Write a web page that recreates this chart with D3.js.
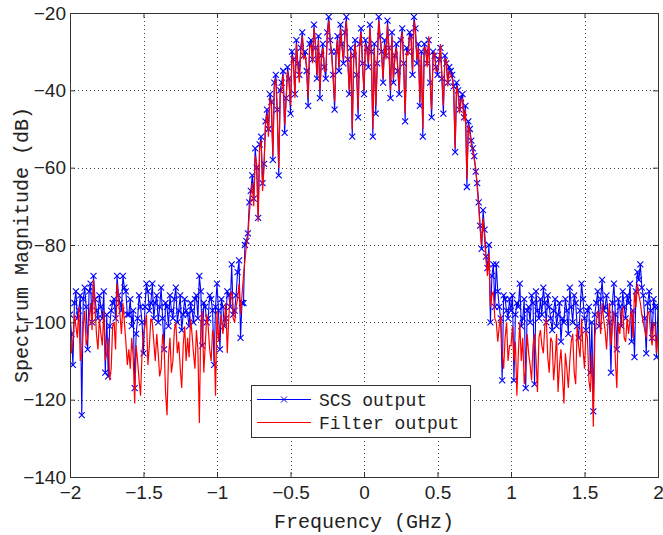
<!DOCTYPE html>
<html>
<head>
<meta charset="utf-8">
<script src="https://cdn.jsdelivr.net/npm/d3@7"></script>
<style>
  html, body { margin: 0; padding: 0; background: #fff; }
  svg { display: block; }
</style>
</head>
<body>
<div id="chart"></div>
<script>
// sample grid of the spectrum, GHz (one sample every 0.01 GHz)
var freqStart = -2, freqStep = 0.01;

// SCS output, dB (one row = 0.2 GHz)
var scsOutput = [
  -98, -103, -111, -95, -92, -99, -97, -93, -124, -94, -91, -96, -107, -92, -90, -100, -88, -94, -97, -99,
  -93, -96, -99, -92, -113, -98, -114, -101, -97, -95, -94, -99, -88, -93, -95, -97, -88, -91, -92, -98,
  -98, -94, -101, -97, -117, -103, -99, -93, -96, -100, -108, -96, -90, -92, -97, -95, -90, -99, -95, -93,
  -100, -96, -91, -99, -107, -95, -96, -101, -93, -97, -99, -94, -91, -100, -97, -93, -102, -98, -94, -97,
  -98, -101, -95, -97, -100, -94, -93, -99, -88, -92, -106, -95, -96, -100, -99, -93, -94, -97, -111, -96,
  -90, -97, -107, -94, -96, -101, -99, -92, -93, -96, -85, -98, -97, -93, -87, -84, -104, -95, -95, -80,
  -79, -77, -69, -66, -62, -68, -55, -60, -73, -54, -52, -64, -59, -48, -45, -50, -41, -43, -58, -38,
  -36, -45, -62, -40, -38, -35, -51, -42, -34, -37, -46, -30, -32, -41, -27, -33, -36, -29, -25, -31,
  -30, -35, -44, -28, -27, -32, -23, -29, -37, -26, -42, -31, -28, -34, -37, -25, -21, -27, -30, -36,
  -45, -30, -26, -35, -23, -28, -33, -25, -21, -32, -41, -29, -52, -31, -27, -36, -47, -28, -24, -33,
  -41, -27, -29, -34, -23, -30, -52, -28, -46, -33, -21, -26, -30, -38, -27, -31, -22, -29, -42, -25,
  -38, -31, -28, -35, -41, -27, -24, -33, -48, -29, -30, -25, -26, -36, -21, -24, -33, -28, -44, -30,
  -52, -28, -30, -33, -27, -38, -47, -30, -31, -34, -36, -32, -29, -37, -46, -31, -33, -38, -34, -35,
  -36, -39, -56, -38, -40, -45, -42, -41, -47, -44, -65, -48, -50, -53, -55, -57, -61, -64, -69, -75,
  -81, -71, -76, -83, -86, -80, -100, -88, -85, -96, -85, -92, -96, -99, -115, -93, -94, -97, -99, -94,
  -97, -93, -115, -98, -95, -96, -90, -101, -99, -94, -117, -97, -96, -100, -93, -95, -116, -92, -97, -99,
  -94, -98, -91, -95, -100, -93, -96, -99, -102, -97, -94, -101, -98, -95, -105, -99, -100, -94, -97, -103,
  -91, -96, -100, -93, -95, -101, -104, -97, -90, -94, -99, -102, -97, -96, -113, -100, -123, -98, -95, -92,
  -101, -94, -89, -97, -96, -93, -98, -100, -113, -95, -90, -98, -107, -94, -96, -101, -92, -96, -99, -93,
  -95, -90, -105, -97, -109, -92, -87, -89, -85, -91, -93, -99, -108, -95, -92, -97, -104, -94, -96, -109,
  -96
];

// Filter output, dB
var filterOutput = [
  -100, -108, -105, -98, -101, -104, -96, -110, -108, -101, -97, -106, -104, -99, -95, -102, -89, -96, -103, -107,
  -99, -103, -106, -97, -110, -108, -104, -115, -112, -101, -100, -107, -90, -94, -98, -103, -95, -100, -105, -111,
  -107, -112, -104, -109, -121, -106, -110, -115, -119, -108, -103, -101, -98, -111, -106, -99, -100, -105, -110, -103,
  -108, -114, -112, -103, -106, -118, -124, -109, -104, -113, -110, -102, -100, -108, -105, -112, -117, -106, -101, -110,
  -104, -109, -99, -103, -108, -112, -102, -107, -126, -100, -97, -113, -106, -98, -101, -107, -110, -102, -104, -119,
  -97, -105, -101, -98, -103, -100, -95, -108, -99, -93, -92, -99, -100, -96, -94, -90, -98, -93, -88, -84,
  -80, -78, -72, -67, -64, -70, -57, -59, -74, -55, -53, -66, -60, -49, -46, -52, -42, -44, -57, -39,
  -37, -46, -60, -41, -40, -36, -49, -43, -35, -38, -44, -31, -33, -42, -28, -34, -38, -30, -26, -32,
  -31, -34, -42, -29, -28, -33, -24, -28, -36, -27, -40, -32, -29, -35, -35, -26, -22, -28, -31, -37,
  -43, -31, -27, -34, -24, -29, -32, -26, -22, -33, -40, -30, -50, -32, -28, -35, -45, -29, -25, -34,
  -40, -28, -30, -33, -24, -31, -50, -29, -44, -34, -22, -27, -31, -37, -28, -32, -23, -30, -40, -26,
  -37, -32, -29, -34, -40, -28, -25, -34, -46, -30, -31, -26, -27, -35, -22, -25, -32, -29, -43, -31,
  -50, -29, -29, -34, -26, -37, -45, -31, -30, -35, -35, -33, -28, -36, -44, -32, -32, -39, -35, -36,
  -37, -40, -55, -39, -41, -46, -43, -42, -48, -45, -63, -49, -51, -54, -56, -58, -60, -65, -70, -76,
  -80, -73, -78, -84, -88, -82, -96, -93, -92, -99, -100, -105, -101, -98, -108, -112, -104, -100, -110, -106,
  -106, -101, -110, -105, -119, -108, -100, -110, -104, -116, -112, -103, -108, -111, -115, -106, -103, -109, -118, -104,
  -102, -106, -108, -101, -99, -109, -113, -104, -105, -115, -110, -103, -118, -111, -107, -114, -121, -108, -112, -117,
  -110, -105, -103, -113, -116, -101, -106, -109, -99, -107, -112, -102, -104, -115, -118, -108, -127, -104, -100, -97,
  -98, -103, -95, -99, -102, -107, -100, -95, -106, -101, -97, -110, -117, -100, -103, -98, -96, -104, -105, -99,
  -103, -99, -97, -104, -92, -96, -90, -93, -95, -98, -100, -102, -104, -97, -98, -103, -106, -100, -101, -108,
  -103
];

var xTicks = [-2, -1.5, -1, -0.5, 0, 0.5, 1, 1.5, 2];
var yTicks = [-140, -120, -100, -80, -60, -40, -20];
var seriesNames = ["SCS output", "Filter output"];

var width = 663,
  height = 535,
  margin = {top: 13, right: 5, bottom: 58, left: 70},
  plotW = width - margin.left - margin.right,
  plotH = height - margin.top - margin.bottom,
  tickLen = 5,
  monoFont = "'Liberation Mono', 'DejaVu Sans Mono', monospace",
  sansFont = "'Liberation Sans', Arial, sans-serif";

var xScale = d3.scaleLinear().domain([-2, 2]).range([0, plotW]),
  yScale = d3.scaleLinear().domain([-140, -20]).range([plotH, 0]);

var svg = d3.select("#chart").append("svg")
  .attr("width", width)
  .attr("height", height);

var g = svg.append("g")
  .attr("transform", "translate(" + margin.left + "," + margin.top + ")");

svg.append("defs").append("clipPath").attr("id", "clip")
  .append("rect").attr("width", plotW).attr("height", plotH);

// dotted grid
var grid = g.append("g").attr("class", "grid")
  .attr("stroke", "#444")
  .attr("stroke-width", 1)
  .attr("stroke-dasharray", "1,3");
grid.selectAll(".gx").data(xTicks.slice(1, -1)).enter().append("line")
  .attr("x1", d => Math.round(xScale(d)) + 0.5).attr("x2", d => Math.round(xScale(d)) + 0.5)
  .attr("y1", 0).attr("y2", plotH);
grid.selectAll(".gy").data(yTicks.slice(1, -1)).enter().append("line")
  .attr("y1", d => Math.round(yScale(d)) + 0.5).attr("y2", d => Math.round(yScale(d)) + 0.5)
  .attr("x1", 0).attr("x2", plotW);

// data lines
var line = d3.line()
  .x((d, i) => xScale(freqStart + i * freqStep))
  .y(d => yScale(d));

var plot = g.append("g").attr("clip-path", "url(#clip)");

plot.append("path")
  .datum(scsOutput)
  .attr("fill", "none")
  .attr("stroke", "#0000ff")
  .attr("stroke-width", 1.1)
  .attr("d", line);

var cross = "M-3,-3L3,3M-3,3L3,-3";
plot.append("g").selectAll("path").data(scsOutput).enter().append("path")
  .attr("transform", (d, i) => "translate(" + xScale(freqStart + i * freqStep) + "," + yScale(d) + ")")
  .attr("d", cross)
  .attr("stroke", "#0000ff")
  .attr("stroke-width", 1.1)
  .attr("fill", "none");

plot.append("path")
  .datum(filterOutput)
  .attr("fill", "none")
  .attr("stroke", "#ff0000")
  .attr("stroke-width", 1.2)
  .attr("d", line);

// axes, MATLAB style: box with inward ticks on all sides
var fmt = d3.format("~f");
var xAxisB = d3.axisBottom(xScale).tickValues(xTicks).tickSizeInner(-tickLen).tickSizeOuter(0).tickPadding(9).tickFormat(fmt),
  xAxisT = d3.axisTop(xScale).tickValues(xTicks).tickSizeInner(-tickLen).tickSizeOuter(0).tickFormat(""),
  yAxisL = d3.axisLeft(yScale).tickValues(yTicks).tickSizeInner(-tickLen).tickSizeOuter(0).tickPadding(4).tickFormat(fmt),
  yAxisR = d3.axisRight(yScale).tickValues(yTicks).tickSizeInner(-tickLen).tickSizeOuter(0).tickFormat("");

function styleAxis(sel) {
  sel.select(".domain").remove();
  sel.selectAll("line").attr("stroke", "#333");
  sel.selectAll("text")
    .attr("fill", "#222")
    .style("font-family", sansFont)
    .style("font-size", "19px");
}

g.append("g").attr("transform", "translate(0," + plotH + ")").call(xAxisB).call(styleAxis);
g.append("g").call(xAxisT).call(styleAxis);
g.append("g").call(yAxisL).call(styleAxis);
g.append("g").attr("transform", "translate(" + plotW + ",0)").call(yAxisR).call(styleAxis);

g.append("rect")
  .attr("x", 0.5).attr("y", 0.5)
  .attr("width", plotW).attr("height", plotH)
  .attr("fill", "none")
  .attr("stroke", "#333")
  .attr("stroke-width", 1);

// axis titles
svg.append("text")
  .attr("x", margin.left + plotW / 2)
  .attr("y", 528)
  .attr("text-anchor", "middle")
  .attr("fill", "#222")
  .style("font-family", monoFont)
  .style("font-size", "20px")
  .text("Frequency (GHz)");

svg.append("text")
  .attr("transform", "translate(28," + (margin.top + plotH / 2) + ") rotate(-90)")
  .attr("text-anchor", "middle")
  .attr("fill", "#222")
  .style("font-family", monoFont)
  .style("font-size", "20px")
  .text("Spectrum Magnitude (dB)");

// legend
var legend = svg.append("g").attr("transform", "translate(251,385)");
legend.append("rect")
  .attr("x", 0.5).attr("y", 0.5)
  .attr("width", 219).attr("height", 52)
  .attr("fill", "#fff")
  .attr("stroke", "#333");

var legendColors = ["#0000ff", "#ff0000"];
seriesNames.forEach((name, i) => {
  var ly = 14.5 + i * 23;
  legend.append("line")
    .attr("x1", 6).attr("x2", 60)
    .attr("y1", ly).attr("y2", ly)
    .attr("stroke", legendColors[i]);
  if (i === 0) {
    legend.append("path")
      .attr("transform", "translate(33," + ly + ")")
      .attr("d", cross)
      .attr("stroke", legendColors[i])
      .attr("fill", "none");
  }
  legend.append("text")
    .attr("x", 68)
    .attr("y", ly + 6)
    .attr("fill", "#222")
    .style("font-family", monoFont)
    .style("font-size", "18px")
    .text(name);
});
</script>
</body>
</html>
